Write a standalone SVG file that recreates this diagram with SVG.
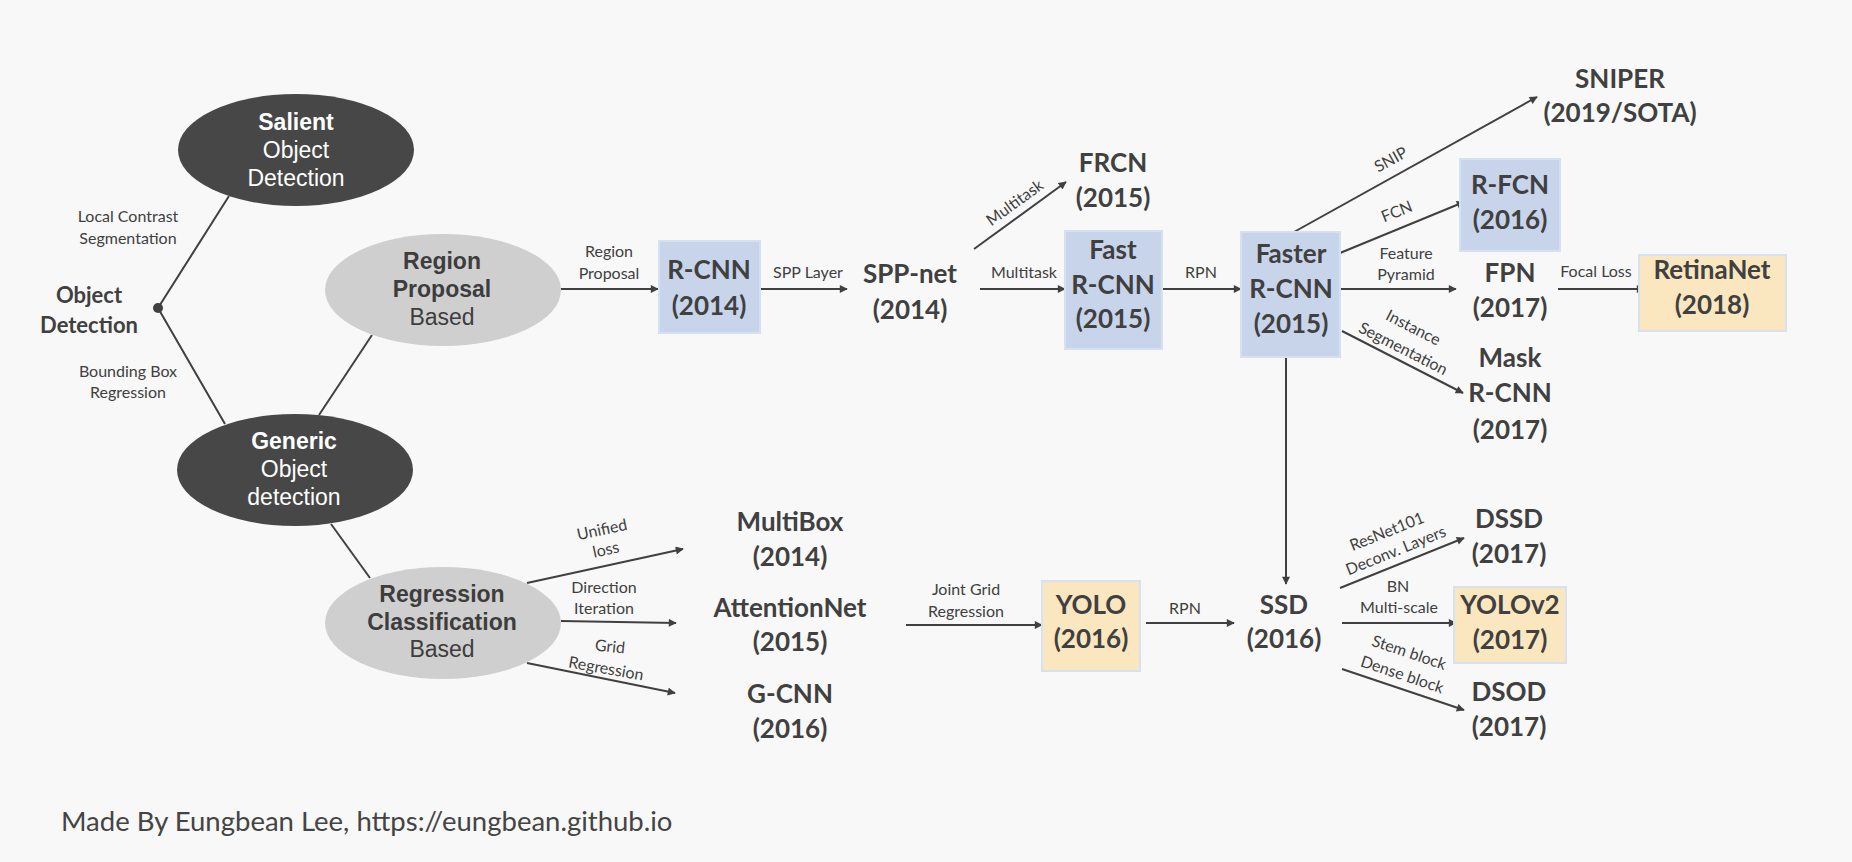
<svg xmlns="http://www.w3.org/2000/svg" width="1852" height="862" viewBox="0 0 1852 862">
<style>
.bg{fill:#f8f8f8}
.dk{fill:#474747}
.lt{fill:#d0cfcf}
.blue{fill:#c7d4ea;stroke:#d5e0f0;stroke-width:2}
.yel{fill:#fae7c0;stroke:#d6e1f1;stroke-width:2}
.et{font-family:"Liberation Sans",Arial,sans-serif;font-size:23px;text-anchor:middle}
.ew{fill:#ffffff}
.eg{fill:#3d3d3d}
.b{font-weight:bold}
.nt{font-family:Lato,"Open Sans","Liberation Sans",sans-serif;font-weight:bold;font-size:26px;fill:#404040;text-anchor:middle}
.lb{font-family:Lato,"Open Sans","Liberation Sans",sans-serif;font-size:16px;fill:#404040;text-anchor:middle}
.ln{stroke:#404040;stroke-width:2;fill:none}
.ar{stroke:#404040;stroke-width:2;fill:none;marker-end:url(#ah)}
.ft{font-family:Lato,"Open Sans","Liberation Sans",sans-serif;font-size:27.5px;fill:#444444}
</style>
<defs>
<marker id="ah" viewBox="0 0 10 10" refX="9" refY="5" markerWidth="9" markerHeight="8" markerUnits="userSpaceOnUse" orient="auto">
<path d="M0,0 L10,5 L0,10 z" fill="#404040"/>
</marker>
</defs>
<rect class="bg" x="0" y="0" width="1852" height="862"/>

<g id="connectors">
<polyline class="ln" points="229,196 158,308 225,424"/>
<circle cx="158" cy="308" r="5" fill="#404040"/>
<line class="ln" x1="372" y1="335" x2="319" y2="415"/>
<line class="ln" x1="331" y1="524" x2="370" y2="578"/>
<line class="ar" x1="561" y1="289" x2="658" y2="289"/>
<line class="ar" x1="760" y1="289" x2="847" y2="289"/>
<line class="ar" x1="974" y1="249" x2="1066" y2="182"/>
<line class="ar" x1="980" y1="289" x2="1065" y2="289"/>
<line class="ar" x1="1162" y1="289" x2="1241" y2="289"/>
<line class="ar" x1="1294" y1="232" x2="1537" y2="97"/>
<line class="ar" x1="1340" y1="253" x2="1464" y2="202"/>
<line class="ar" x1="1341" y1="289" x2="1456" y2="289"/>
<line class="ar" x1="1558" y1="289" x2="1644" y2="289"/>
<line class="ar" x1="1342" y1="331" x2="1463" y2="393"/>
<line class="ar" x1="1286" y1="357" x2="1286" y2="584"/>
<line class="ar" x1="527" y1="583" x2="683" y2="549"/>
<line class="ar" x1="561" y1="621" x2="676" y2="623"/>
<line class="ar" x1="527" y1="663" x2="675" y2="693"/>
<line class="ar" x1="906" y1="625" x2="1042" y2="625"/>
<line class="ar" x1="1146" y1="623" x2="1234" y2="623"/>
<line class="ar" x1="1340" y1="588" x2="1464" y2="538"/>
<line class="ar" x1="1342" y1="623" x2="1456" y2="623"/>
<line class="ar" x1="1342" y1="669" x2="1464" y2="710"/>
</g>

<g id="edge-labels">
<text class="lb" x="128" y="222">Local Contrast</text>
<text class="lb" x="128" y="244">Segmentation</text>
<text class="lb" x="128" y="377">Bounding Box</text>
<text class="lb" x="128" y="398">Regression</text>
<text class="lb" x="609" y="257">Region</text>
<text class="lb" x="609" y="279">Proposal</text>
<text class="lb" x="808" y="278">SPP Layer</text>
<text class="lb" transform="translate(1015,203) rotate(-36)" y="5">Multitask</text>
<text class="lb" x="1024" y="278">Multitask</text>
<text class="lb" x="1201" y="278">RPN</text>
<text class="lb" transform="translate(1391,160) rotate(-29)" y="5">SNIP</text>
<text class="lb" transform="translate(1397,212) rotate(-22)" y="5">FCN</text>
<text class="lb" x="1406" y="259">Feature</text>
<text class="lb" x="1406" y="280">Pyramid</text>
<text class="lb" x="1596" y="277">Focal Loss</text>
<text class="lb" transform="translate(1413,328) rotate(27)" y="5">Instance</text>
<text class="lb" transform="translate(1403,349) rotate(27)" y="5">Segmentation</text>
<text class="lb" transform="translate(602,530) rotate(-12)" y="5">Unified</text>
<text class="lb" transform="translate(606,550) rotate(-12)" y="5">loss</text>
<text class="lb" x="604" y="593">Direction</text>
<text class="lb" x="604" y="614">Iteration</text>
<text class="lb" transform="translate(610,647) rotate(6)" y="5">Grid</text>
<text class="lb" transform="translate(606,669) rotate(10)" y="5">Regression</text>
<text class="lb" x="966" y="595">Joint Grid</text>
<text class="lb" x="966" y="617">Regression</text>
<text class="lb" x="1185" y="614">RPN</text>
<text class="lb" transform="translate(1387,532) rotate(-22)" y="5">ResNet101</text>
<text class="lb" transform="translate(1396,551) rotate(-22)" y="5">Deconv. Layers</text>
<text class="lb" x="1398" y="592">BN</text>
<text class="lb" x="1399" y="613">Multi-scale</text>
<text class="lb" transform="translate(1409,653) rotate(18.5)" y="5">Stem block</text>
<text class="lb" transform="translate(1402,675) rotate(18.5)" y="5">Dense block</text>
</g>

<g id="object-detection">
<text class="nt" x="89" y="303" style="font-size:22px">Object</text>
<text class="nt" x="89" y="333" style="font-size:22px">Detection</text>
</g>

<g id="salient">
<ellipse class="dk" cx="296" cy="150" rx="118" ry="56"/>
<text class="et ew b" x="296" y="130">Salient</text>
<text class="et ew" x="296" y="158">Object</text>
<text class="et ew" x="296" y="186">Detection</text>
</g>

<g id="region-proposal">
<ellipse class="lt" cx="443" cy="290" rx="118" ry="56"/>
<text class="et eg b" x="442" y="269">Region</text>
<text class="et eg b" x="442" y="297">Proposal</text>
<text class="et eg" x="442" y="325">Based</text>
</g>

<g id="generic">
<ellipse class="dk" cx="295" cy="470" rx="118" ry="56"/>
<text class="et ew b" x="294" y="449">Generic</text>
<text class="et ew" x="294" y="477">Object</text>
<text class="et ew" x="294" y="505">detection</text>
</g>

<g id="regression">
<ellipse class="lt" cx="443" cy="623" rx="118" ry="56"/>
<text class="et eg b" x="442" y="602">Regression</text>
<text class="et eg b" x="442" y="630">Classification</text>
<text class="et eg" x="442" y="657">Based</text>
</g>

<g id="rcnn">
<rect class="blue" x="659" y="241" width="101" height="92"/>
<text class="nt" x="709" y="279">R-CNN</text>
<text class="nt" x="709" y="315">(2014)</text>
</g>

<g id="sppnet">
<text class="nt" x="910" y="283">SPP-net</text>
<text class="nt" x="910" y="319">(2014)</text>
</g>

<g id="frcn">
<text class="nt" x="1113" y="172">FRCN</text>
<text class="nt" x="1113" y="207">(2015)</text>
</g>

<g id="fast-rcnn">
<rect class="blue" x="1065" y="231" width="97" height="118"/>
<text class="nt" x="1113" y="259">Fast</text>
<text class="nt" x="1113" y="294">R-CNN</text>
<text class="nt" x="1113" y="328">(2015)</text>
</g>

<g id="faster-rcnn">
<rect class="blue" x="1241" y="232" width="99" height="125"/>
<text class="nt" x="1291" y="263">Faster</text>
<text class="nt" x="1291" y="298">R-CNN</text>
<text class="nt" x="1291" y="333">(2015)</text>
</g>

<g id="sniper">
<text class="nt" x="1620" y="88">SNIPER</text>
<text class="nt" x="1620" y="122">(2019/SOTA)</text>
</g>

<g id="rfcn">
<rect class="blue" x="1460" y="159" width="100" height="92"/>
<text class="nt" x="1510" y="194">R-FCN</text>
<text class="nt" x="1510" y="229">(2016)</text>
</g>

<g id="fpn">
<text class="nt" x="1510" y="282">FPN</text>
<text class="nt" x="1510" y="317">(2017)</text>
</g>

<g id="retinanet">
<rect class="yel" x="1639" y="255" width="147" height="76"/>
<text class="nt" x="1712" y="279">RetinaNet</text>
<text class="nt" x="1712" y="314">(2018)</text>
</g>

<g id="mask-rcnn">
<text class="nt" x="1510" y="367">Mask</text>
<text class="nt" x="1510" y="402">R-CNN</text>
<text class="nt" x="1510" y="439">(2017)</text>
</g>

<g id="multibox">
<text class="nt" x="790" y="531">MultiBox</text>
<text class="nt" x="790" y="566">(2014)</text>
</g>

<g id="attentionnet">
<text class="nt" x="790" y="617">AttentionNet</text>
<text class="nt" x="790" y="651">(2015)</text>
</g>

<g id="gcnn">
<text class="nt" x="790" y="703">G-CNN</text>
<text class="nt" x="790" y="738">(2016)</text>
</g>

<g id="yolo">
<rect class="yel" x="1042" y="581" width="98" height="90"/>
<text class="nt" x="1091" y="614">YOLO</text>
<text class="nt" x="1091" y="648">(2016)</text>
</g>

<g id="ssd">
<text class="nt" x="1284" y="614">SSD</text>
<text class="nt" x="1284" y="648">(2016)</text>
</g>

<g id="dssd">
<text class="nt" x="1509" y="528">DSSD</text>
<text class="nt" x="1509" y="563">(2017)</text>
</g>

<g id="yolov2">
<rect class="yel" x="1454" y="587" width="112" height="76"/>
<text class="nt" x="1510" y="614">YOLOv2</text>
<text class="nt" x="1510" y="649">(2017)</text>
</g>

<g id="dsod">
<text class="nt" x="1509" y="701">DSOD</text>
<text class="nt" x="1509" y="736">(2017)</text>
</g>

<text class="ft" x="61" y="831">Made By Eungbean Lee, https://eungbean.github.io</text>
</svg>
